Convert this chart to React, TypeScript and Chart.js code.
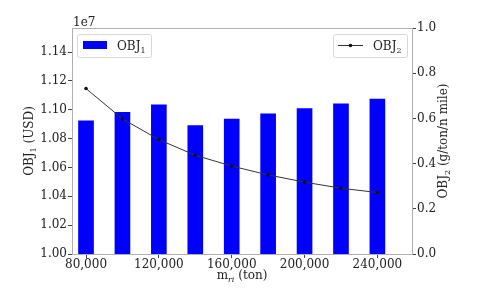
import React, { useEffect, useRef } from "react";
import { Chart, registerables } from "chart.js";

Chart.register(...registerables);

const categories = [80000, 100000, 120000, 140000, 160000, 180000, 200000, 220000, 240000];
const obj1Values = [10923000, 10983000, 11034000, 10891000, 10935000, 10972000, 11009000, 11041000, 11074000];
const obj2Values = [0.732, 0.598, 0.506, 0.437, 0.389, 0.35, 0.318, 0.291, 0.272];
const xTickValues = [80000, 120000, 160000, 200000, 240000];
const leftTickValues = [10000000, 10200000, 10400000, 10600000, 10800000, 11000000, 11200000, 11400000];
const rightTickValues = [0, 0.2, 0.4, 0.6, 0.8, 1.0];
const FONT = "'DejaVu Serif', serif";

type Part = { t: string; sub?: boolean; italic?: boolean };

function drawRich(ctx: CanvasRenderingContext2D, parts: Part[], x: number, y: number, size: number, align: "center" | "left") {
  const fontFor = (p: Part) => `${p.italic ? "italic " : ""}${p.sub ? Math.round(size * 0.7) : size}px ${FONT}`;
  let total = 0;
  const widths = parts.map((p) => {
    ctx.font = fontFor(p);
    const w = ctx.measureText(p.t).width;
    total += w;
    return w;
  });
  let cx = align === "center" ? x - total / 2 : x;
  ctx.textAlign = "left";
  ctx.textBaseline = "alphabetic";
  parts.forEach((p, i) => {
    ctx.font = fontFor(p);
    ctx.fillText(p.t, cx, y + (p.sub ? size * 0.22 : 0));
    cx += widths[i];
  });
}

const overlayPlugin = {
  id: "overlay",
  afterDatasetsDraw(chart: any) {
    const ctx: CanvasRenderingContext2D = chart.ctx;
    const a = chart.chartArea;
    ctx.save();
    // frame
    ctx.strokeStyle = "#b0b0b0";
    ctx.lineWidth = 1;
    ctx.strokeRect(Math.round(a.left) + 0.5, Math.round(a.top) + 0.5, Math.round(a.right - a.left), Math.round(a.bottom - a.top));
    ctx.fillStyle = "#222";
    // offset text
    ctx.font = `12px ${FONT}`;
    ctx.textAlign = "left";
    ctx.textBaseline = "alphabetic";
    ctx.fillText("1e7", a.left + 1, a.top - 2);
    // axis titles
    drawRich(ctx, [{ t: "m" }, { t: "ri", sub: true, italic: true }, { t: " (ton)" }], (a.left + a.right) / 2, 279, 12, "center");
    ctx.save();
    ctx.translate(33, (a.top + a.bottom) / 2);
    ctx.rotate(-Math.PI / 2);
    drawRich(ctx, [{ t: "OBJ" }, { t: "1", sub: true }, { t: " (USD)" }], 0, 0, 12, "center");
    ctx.restore();
    ctx.save();
    ctx.translate(447, (a.top + a.bottom) / 2);
    ctx.rotate(-Math.PI / 2);
    drawRich(ctx, [{ t: "OBJ" }, { t: "2", sub: true }, { t: " (g/ton/n mile)" }], 0, 0, 12, "center");
    ctx.restore();
    // legends
    const box = (x: number, y: number, w: number, h: number) => {
      ctx.fillStyle = "rgba(255,255,255,0.85)";
      ctx.strokeStyle = "#d8d8d8";
      ctx.lineWidth = 1;
      ctx.beginPath();
      ctx.roundRect(x + 0.5, y + 0.5, w, h, 2);
      ctx.fill();
      ctx.stroke();
    };
    box(a.left + 5, a.top + 6, 74, 23);
    ctx.fillStyle = "#0000ff";
    ctx.fillRect(a.left + 11, a.top + 13, 24, 8);
    ctx.fillStyle = "#222";
    drawRich(ctx, [{ t: "OBJ" }, { t: "1", sub: true }], a.left + 45, a.top + 22, 12, "left");
    box(a.right - 79, a.top + 6, 74, 23);
    ctx.strokeStyle = "#333";
    ctx.beginPath();
    ctx.moveTo(a.right - 74, a.top + 17.5);
    ctx.lineTo(a.right - 49, a.top + 17.5);
    ctx.stroke();
    ctx.fillStyle = "#111";
    ctx.beginPath();
    ctx.arc(a.right - 61.5, a.top + 17.5, 1.8, 0, Math.PI * 2);
    ctx.fill();
    ctx.fillStyle = "#222";
    drawRich(ctx, [{ t: "OBJ" }, { t: "2", sub: true }], a.right - 39, a.top + 22, 12, "left");
    ctx.restore();
  },
};

export default function App() {
  const ref = useRef<HTMLCanvasElement | null>(null);
  useEffect(() => {
    document.body.style.margin = "0";
    const canvas = ref.current!;
    const tickFont = { family: FONT, size: 12 };
    const gridOpts = { drawOnChartArea: false, drawTicks: true, tickLength: 4, tickColor: "#444", offset: false };
    const chart = new Chart(canvas, {
      type: "bar",
      data: {
        datasets: [
          {
            type: "line",
            label: "OBJ2",
            data: categories.map((c, i) => ({ x: c, y: obj2Values[i] })),
            yAxisID: "y2",
            borderColor: "#333",
            backgroundColor: "#111",
            borderWidth: 1,
            pointRadius: 1.8,
            pointBorderWidth: 0,
            pointBackgroundColor: "#111",
            tension: 0,
          } as any,
          {
            type: "bar",
            label: "OBJ1",
            data: categories.map((c, i) => ({ x: c, y: obj1Values[i] })),
            yAxisID: "y",
            backgroundColor: "#0000ff",
            barThickness: 15,
            borderWidth: 0,
          } as any,
        ],
      },
      options: {
        animation: false,
        responsive: false,
        devicePixelRatio: 1,
        layout: { padding: { top: 28, left: 0, right: 0, bottom: 0 } },
        plugins: { legend: { display: false }, tooltip: { enabled: false } },
        scales: {
          x: {
            type: "linear",
            offset: false,
            min: 72300,
            max: 259000,
            grid: gridOpts,
            border: { display: false },
            ticks: {
              padding: 0,
              maxRotation: 0,
              autoSkip: false,
              color: "#222",
              font: tickFont,
              callback: (v: any) => Number(v).toLocaleString("en-US"),
            },
            afterBuildTicks: (s: any) => {
              s.ticks = xTickValues.map((v) => ({ value: v }));
            },
            afterFit: (s: any) => {
              s.height = 41;
            },
          },
          y: {
            type: "linear",
            position: "left",
            min: 10000000,
            max: 11567000,
            grid: gridOpts,
            border: { display: false },
            ticks: {
              padding: 1,
              autoSkip: false,
              color: "#222",
              font: tickFont,
              callback: (v: any) => (Number(v) / 1e7).toFixed(2),
            },
            afterBuildTicks: (s: any) => {
              s.ticks = leftTickValues.map((v) => ({ value: v }));
            },
            afterFit: (s: any) => {
              s.width = 72;
            },
          },
          y2: {
            type: "linear",
            position: "right",
            min: 0,
            max: 1,
            grid: gridOpts,
            border: { display: false },
            ticks: {
              padding: 1,
              autoSkip: false,
              color: "#222",
              font: tickFont,
              callback: (v: any) => Number(v).toFixed(1),
            },
            afterBuildTicks: (s: any) => {
              s.ticks = rightTickValues.map((v) => ({ value: v }));
            },
            afterFit: (s: any) => {
              s.width = 75;
            },
          },
        },
      },
      plugins: [overlayPlugin],
    } as any);
    return () => chart.destroy();
  }, []);
  return <canvas ref={ref} width={487} height={295} style={{ display: "block", width: 487, height: 295 }} />;
}
